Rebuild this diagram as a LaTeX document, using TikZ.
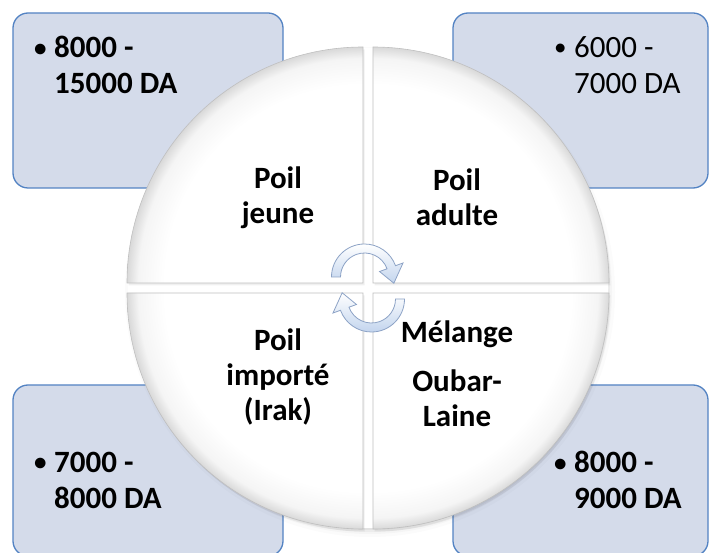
\documentclass[tikz,border=0pt]{standalone}
\usepackage{fontspec}
\setmainfont{Carlito}
\usetikzlibrary{calc}
\definecolor{boxfill}{HTML}{D4DBEA}
\definecolor{boxline}{HTML}{5383C3}
\definecolor{arrowblue}{HTML}{C3D5EE}
\definecolor{arrowline}{HTML}{8DA3C6}
\pgfdeclareradialshading{rimshade}{\pgfpoint{0bp}{0bp}}{color(0bp)=(white); color(21bp)=(white); color(23.8bp)=(black!4); color(25bp)=(black!15); color(50bp)=(black!15)}
\newcommand\mybullet{\makebox[21pt][l]{\hspace{1pt}\raisebox{1.5pt}{\fontsize{25}{25}\selectfont\textbullet}}}
\begin{document}
\begin{tikzpicture}[x=1pt,y=1pt,
  pricebox/.style={draw=boxline, line width=1.3pt, fill=boxfill, rounded corners=15pt},
  boxtext/.style={font=\fontsize{31}{36}\selectfont, align=left, inner sep=0pt, anchor=west},
  boldboxtext/.style={boxtext, font=\fontsize{31}{36}\selectfont\bfseries},
  pietext/.style={font=\fontsize{31}{35}\selectfont\bfseries, align=center, inner sep=0pt},
  cyclearrow/.style={draw=arrowline, line width=0.8pt, top color=white, bottom color=arrowblue},
  piece/.style={draw=black!25, line width=0.6pt},
  cycarrow/.pic={
    \path[cyclearrow] (180:24) -- (180:33) arc[start angle=180,end angle=20,radius=33]
      -- (20:41) -- (-12:30) -- (20:16) -- (20:24)
      arc[start angle=20,end angle=180,radius=24] -- cycle;
  }]
\useasboundingbox (0,0) rectangle (710,-553);
\clip (0,0) rectangle (710,-553);
\coordinate (C) at (368,-288);

% corner boxes
\draw[pricebox] (13,-13) rectangle (283,-188);
\draw[pricebox] (453,-13) rectangle (708,-188);
\draw[pricebox] (13,-385) rectangle (283,-556);
\draw[pricebox] (453,-385) rectangle (708,-556);

\node[boldboxtext] (tl) at (33,-65) {\mybullet 8000 -\\\hspace*{21pt}15000 DA};
\node[boxtext] (tr) at (553,-65) {\mybullet 6000 -\\\hspace*{21pt}7000 DA};
\node[boldboxtext] (bl) at (33,-480) {\mybullet 7000 -\\\hspace*{21pt}8000 DA};
\node[boldboxtext] (br) at (553,-480) {\mybullet 8000 -\\\hspace*{21pt}9000 DA};

% circle shadow
\foreach \r/\o in {245/0.015,242/0.025,240/0.035,238/0.045}
  \fill[black, opacity=\o] ($(C)+(2,-4)$) circle (\r);
\fill[white] (C) circle (240);

% pie pieces
\foreach \a/\dx/\dy in {90/-5/5, 0/5/5, 270/5/-5, 180/-5/-5}{
  \fill[black, opacity=0.06] ($(C)+(\dx,\dy)+(1.5,-2.5)$) -- ++(\a:236)
     arc[start angle=\a, end angle=\a+90, radius=236] -- cycle;
  \begin{scope}
    \clip ($(C)+(\dx,\dy)$) -- ++(\a:236) arc[start angle=\a, end angle=\a+90, radius=236] -- cycle;
    \shade[shading=rimshade] ($(C)+(\dx,\dy)$) circle (236);
  \end{scope}
  \draw[piece] ($(C)+(\dx,\dy)$) -- ++(\a:236) arc[start angle=\a, end angle=\a+90, radius=236] -- cycle;
}

% texts in the pie
\node[pietext] (jeune) at (278,-198) {Poil\\jeune};
\node[pietext] (adulte) at (457,-197) {Poil\\adulte};
\node[pietext] (irak) at (278,-377) {Poil\\import\'e\\(Irak)};
\node[pietext] (melange) at (457,-374) {M\'elange\\[14pt]Oubar-\\Laine};

% cycle arrows
\pic (arrowtop) at ($(C)+(-3.5,11)$) {cycarrow};
\pic[rotate=180] (arrowbot) at ($(C)+(3.5,-11)$) {cycarrow};
\end{tikzpicture}
\end{document}
